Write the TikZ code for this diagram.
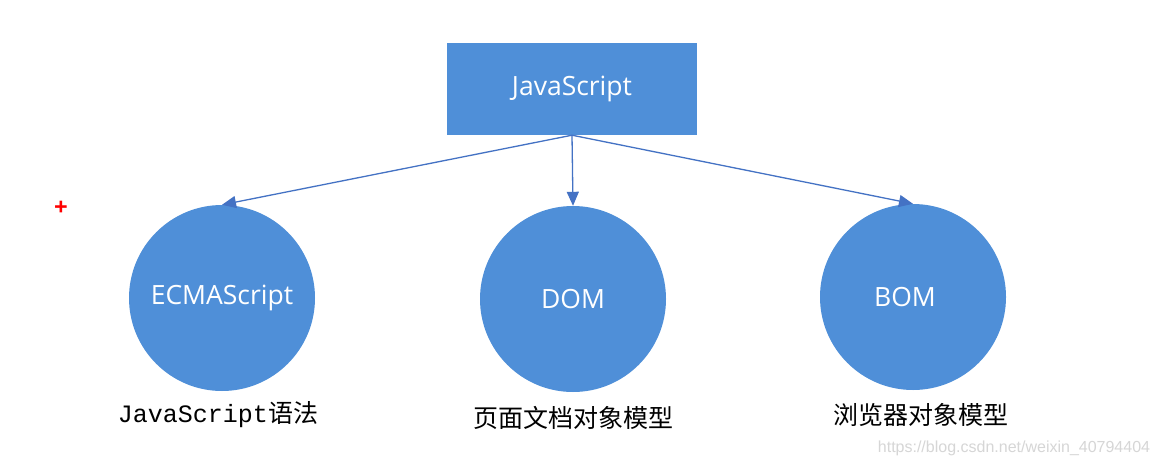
\documentclass[tikz,border=0pt]{standalone}
\usepackage{fontspec}
\setmainfont{Open Sans}
\newfontfamily\cjk{Noto Sans CJK SC}
\newfontfamily\monof{Liberation Mono}
\newfontfamily\wmf{Liberation Sans}
\usetikzlibrary{arrows.meta}
\definecolor{boxblue}{RGB}{79,143,216}
\definecolor{linkblue}{RGB}{68,114,196}
\begin{document}
\begin{tikzpicture}[x=1pt,y=-1pt,
  blk/.style={fill=boxblue,draw=none,text=white,font=\fontsize{26.5}{30}\selectfont},
  circ/.style={blk,circle,minimum size=186pt,inner sep=0pt},
  link/.style={draw=linkblue,line width=1.3pt,-{Triangle[length=14pt,width=12pt]}},
  lab/.style={font=\fontsize{25}{30}\selectfont\cjk,text=black}]
\useasboundingbox (0,0) rectangle (1159,466);
\fill[white] (0,0) rectangle (1159,466);
\node[blk,minimum width=250pt,minimum height=92pt,inner sep=0pt] (js) at (572,89) {JavaScript};
\node[circ] (ecma) at (222,298) {ECMAScript};
\node[circ] (dom) at (573,299) {DOM};
\node[circ] (bom) at (913,297) {\hspace*{-16pt}BOM};
\coordinate (src) at (js.south);
\draw[link] (src) -- (ecma.north);
\draw[link] (src) -- (dom.north);
\draw[link] (src) -- (bom.north);
\node[lab] (l1) at (218,415) {{\monof JavaScript}语法};
\node[lab] (l2) at (573,418) {页面文档对象模型};
\node[lab] (l3) at (921,415) {浏览器对象模型};
\node[font=\fontsize{16}{20}\selectfont\wmf,text=black!16] (wm) at (1014,448) {https://blog.csdn.net/weixin\_40794404};
\node[text=red,font=\fontsize{24}{24}\selectfont\bfseries,inner sep=0pt] (plus) at (61,208) {+};
\end{tikzpicture}
\end{document}
